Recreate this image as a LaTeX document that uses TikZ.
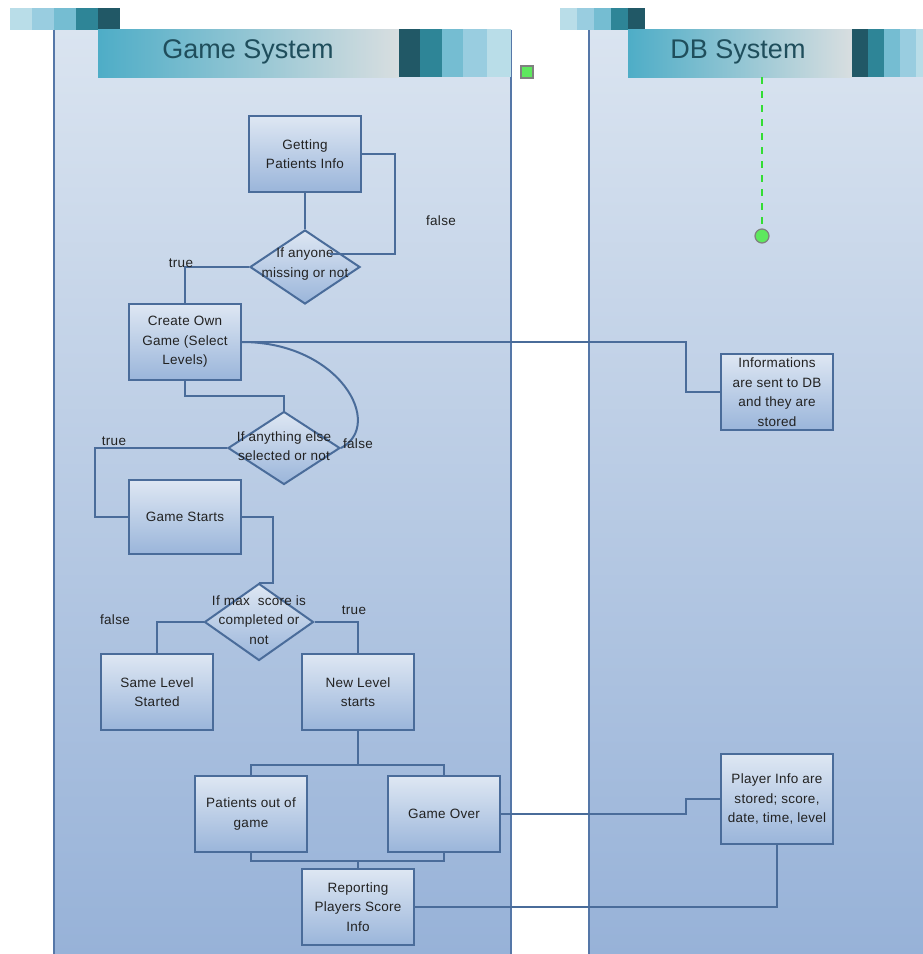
\documentclass[tikz,border=0pt]{standalone}
\usepackage{fontspec}
\setmainfont{Liberation Sans}
\newfontfamily\boxfont[LetterSpace=2]{Liberation Sans}
\usetikzlibrary{shapes.geometric,calc}
\definecolor{laneTop}{HTML}{DAE4F0}
\definecolor{laneBot}{HTML}{97B2D8}
\definecolor{laneLine}{HTML}{5577A8}
\definecolor{boxTop}{HTML}{DEE7F3}
\definecolor{boxBot}{HTML}{9AB5DA}
\definecolor{boxLine}{HTML}{4A6C9A}
\definecolor{txt}{HTML}{222222}
\definecolor{headL}{HTML}{4EADC7}
\definecolor{headR}{HTML}{D8DEE0}
\definecolor{headTxt}{HTML}{1F4E5C}
\definecolor{sqA}{HTML}{B9DDE8}
\definecolor{sqB}{HTML}{99CDE0}
\definecolor{sqC}{HTML}{75BDD2}
\definecolor{sqD}{HTML}{2E8597}
\definecolor{sqE}{HTML}{215866}
\definecolor{grn}{HTML}{5EE85E}
\definecolor{grnDash}{HTML}{33DD33}
\tikzset{
  lane/.style={top color=laneTop, bottom color=laneBot},
  laneedge/.style={draw=laneLine, line width=2pt},
  box/.style={draw=boxLine, line width=2pt, top color=boxTop, bottom color=boxBot,
    minimum width=112pt, minimum height=76pt, align=center, inner sep=2pt,
    font=\boxfont\fontsize{13.5}{19.5}\selectfont, text=txt},
  dia/.style={diamond, draw=boxLine, line width=2pt, top color=boxTop, bottom color=boxBot,
    inner sep=0pt, minimum width=110pt, minimum height=74pt},
  dtxt/.style={align=center, inner sep=0pt, font=\boxfont\fontsize{13.5}{19.5}\selectfont, text=txt},
  lbl/.style={inner sep=0pt, font=\boxfont\fontsize{13.5}{15}\selectfont, text=txt},
  conn/.style={draw=boxLine, line width=2pt},
  htxt/.style={inner sep=0pt, font=\fontsize{27}{30}\selectfont, text=headTxt},
}
\begin{document}
\begin{tikzpicture}[x=1pt,y=-1pt]
\useasboundingbox (0,0) rectangle (923,954);
\fill[white] (0,0) rectangle (923,954);
% lanes
\shade[lane] (54,29) rectangle (511,954);
\shade[lane] (589,29) rectangle (923,954);
\draw[laneedge] (54,30) -- (54,954);
\draw[laneedge] (511,30) -- (511,954);
\draw[laneedge] (589,30) -- (589,954);
% game header
\fill[sqA] (10,8) rectangle (32,30);
\fill[sqB] (32,8) rectangle (54,30);
\fill[sqC] (54,8) rectangle (76,30);
\fill[sqD] (76,8) rectangle (98,30);
\fill[sqE] (98,8) rectangle (120,30);
\shade[left color=headL, right color=headR] (98,29) rectangle (399,77);
\fill[sqE] (399,29) rectangle (420,77);
\fill[sqD] (420,29) rectangle (442,77);
\fill[sqC] (442,29) rectangle (463,77);
\fill[sqB] (463,29) rectangle (487,77);
\fill[sqA] (487,29) rectangle (511,77);
\node[htxt] (ghead) at (248,52) {Game System};
% db header
\fill[sqA] (560,8) rectangle (577,30);
\fill[sqB] (577,8) rectangle (594,30);
\fill[sqC] (594,8) rectangle (611,30);
\fill[sqD] (611,8) rectangle (628,30);
\fill[sqE] (628,8) rectangle (645,30);
\shade[left color=headL, right color=headR] (628,29) rectangle (852,77);
\fill[sqE] (852,29) rectangle (868,77);
\fill[sqD] (868,29) rectangle (884,77);
\fill[sqC] (884,29) rectangle (900,77);
\fill[sqB] (900,29) rectangle (916,77);
\fill[sqA] (916,29) rectangle (923,77);
\node[htxt] (dhead) at (738,52) {DB System};
% green markers
\node[draw=gray, line width=1.2pt, fill=grn, minimum size=12pt, inner sep=0pt] (gsq) at (527,72) {};
\coordinate (gtop) at (762,77);
\node[circle, draw=gray, line width=1.2pt, fill=grn, minimum size=14pt, inner sep=0pt] (gcirc) at (762,236) {};
\draw[grnDash, line width=2pt, dash pattern=on 7pt off 7pt] (gtop) -- (gcirc.north);
% nodes
\node[box] (get) at (305,154) {Getting\\Patients Info};
\node[dia] (d1) at (305,267) {};
\node[dtxt] at (305,264) {If anyone\\missing or not};
\node[box] (create) at (185,342) {Create Own\\Game (Select\\Levels)};
\node[dia, minimum width=112pt, minimum height=73pt] (d2) at (284,448) {};
\node[dtxt] at (284,446) {If anything else\\selected or not};
\node[box, minimum height=74pt] (gstart) at (185,517) {Game Starts};
\node[dia, minimum width=109pt, minimum height=77pt] (d3) at (259,622) {};
\node[dtxt] at (259,620) {If max\ \ score is\\completed or\\not};
\node[box] (same) at (157,692) {Same Level\\Started};
\node[box] (newl) at (358,692) {New Level\\starts};
\node[box] (pout) at (251,814) {Patients out of\\game};
\node[box] (gover) at (444,814) {Game Over};
\node[box] (report) at (358,907) {Reporting\\Players Score\\Info};
\node[box] (info) at (777,392) {Informations\\are sent to DB\\and they are\\stored};
\node[box, minimum height=90pt] (pinfo) at (777,799) {Player Info are\\stored; score,\\date, time, level};
% connectors
\draw[conn] (get.south) -- (d1.north);
\draw[conn] (get.east) -| (395,254) -- ($(d1.center)+(25,-13)$);
\draw[conn] (d1.west) -| (create.north);
\draw[conn] (create.east) -- (686,342) |- (info.west);
\draw[conn] (create.east) .. controls (340,342) and (385,425) .. (d2.east);
\draw[conn] (create.south) -- ++(0,15) -| (d2.north);
\draw[conn] (d2.west) -- (95,448) |- (gstart.west);
\draw[conn] (gstart.east) -| ($(d3.north)+(14,0)$) -- (d3.north);
\draw[conn] (d3.west) -| (same.north);
\draw[conn] (d3.east) -| (newl.north);
\draw[conn] (newl.south) -- ++(0,34) coordinate (f1);
\draw[conn] (pout.north) |- (f1) -| (gover.north);
\draw[conn] (pout.south) -- ++(0,8) coordinate (f2) -| (gover.south);
\draw[conn] (report.north) -- (report.north |- f2);
\draw[conn] (gover.east) -- (686,814) |- (pinfo.west);
\draw[conn] (report.east) -| (pinfo.south);
% labels
\node[lbl] (l1) at (441,221) {false};
\node[lbl] (l2) at (181,263) {true};
\node[lbl] (l3) at (358,444) {false};
\node[lbl] (l4) at (114,441) {true};
\node[lbl] (l5) at (115,620) {false};
\node[lbl] (l6) at (354,610) {true};
\end{tikzpicture}
\end{document}
